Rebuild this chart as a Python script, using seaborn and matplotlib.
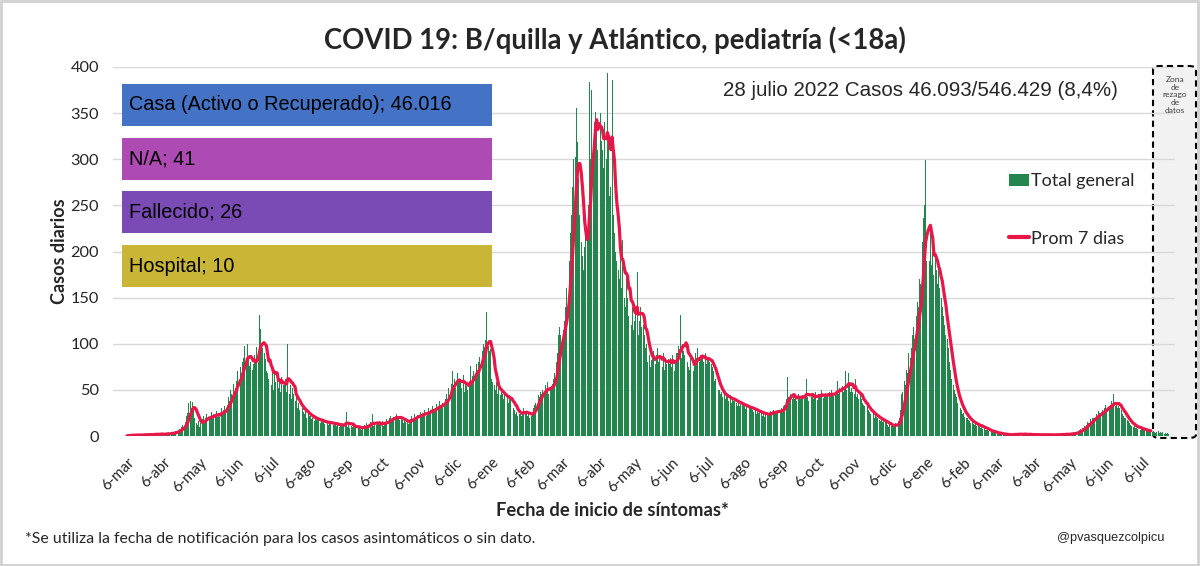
import pandas as pd
import seaborn as sns
import matplotlib.pyplot as plt
import matplotlib.dates as mdates
from matplotlib.patches import Rectangle, FancyBboxPatch, Patch
from matplotlib.lines import Line2D

# casos diarios pediatria, desde el 6-mar-2020 (una semana por linea)
casos_ola1 = [
    0, 1, 0, 1, 2, 1, 1,
    1, 1, 0, 2, 1, 1, 2,
    1, 2, 1, 1, 2, 1, 2,
    2, 1, 2, 3, 2, 1, 2,
    2, 3, 2, 1, 3, 2, 3,
    3, 2, 4, 3, 3, 4, 5,
    5, 6, 8, 7, 10, 12, 11,
    15, 22, 25, 36, 38, 30, 37,
    28, 20, 14, 12, 16, 10, 14,
    18, 22, 15, 20, 24, 17, 21,
    20, 26, 19, 24, 22, 27, 21,
    24, 21, 30, 26, 28, 33, 25,
    34, 42, 38, 50, 45, 56, 48,
    52, 60, 70, 58, 75, 68, 80,
    85, 98, 80, 100, 84, 76, 80,
    72, 78, 88, 82, 96, 80, 131,
    116, 100, 95, 90, 84, 70, 68,
    62, 108, 55, 70, 50, 72, 58,
    66, 52, 60, 48, 64, 55, 58,
    62, 48, 100, 45, 55, 40, 52,
    45, 38, 42, 30, 36, 28, 33,
    30, 26, 24, 28, 20, 25, 22,
    22, 18, 20, 16, 21, 17, 19,
    18, 14, 17, 15, 16, 13, 17,
    15, 12, 14, 16, 13, 12, 14,
    13, 11, 14, 10, 12, 13, 11,
    11, 14, 26, 10, 12, 9, 11,
    10, 12, 9, 11, 8, 10, 9,
    8, 7, 10, 12, 9, 14, 11,
    12, 15, 10, 24, 11, 13, 12,
    14, 12, 15, 13, 16, 11, 14,
    15, 18, 14, 20, 22, 17, 19,
    21, 18, 24, 19, 22, 17, 20,
    17, 14, 18, 15, 16, 13, 17,
    18, 22, 17, 24, 20, 19, 23,
    22, 26, 21, 25, 24, 28, 22,
    25, 30, 24, 28, 33, 26, 29,
    30, 35, 28, 38, 34, 32, 36,
    34, 40, 45, 38, 52, 48, 56,
    70, 55, 62, 52, 68, 58, 60,
    60, 52, 66, 48, 58, 54, 50,
    55, 76, 58, 65, 70, 62, 78,
    72, 80, 86, 78, 92, 100, 96,
    104, 134, 98, 92, 94, 62, 58,
    55, 50, 58, 46, 52, 44, 48,
    45, 40, 48, 38, 42, 36, 44,
    40, 36, 30, 28, 24, 26, 22,
    24, 28, 22, 26, 30, 24, 27,
    22, 24, 20, 22, 26, 30, 34,
    36, 40, 44, 42, 48, 46, 50,
]
casos_ola2 = [
    48, 55, 50, 58, 46, 52, 54,
    56, 62, 68, 80, 90, 110, 118,
    110, 105, 115, 125, 140, 160, 180,
    190, 220, 240, 270, 300, 302, 356,
    319, 280, 240, 210, 195, 180, 205,
    240, 220, 250, 384, 300, 375, 320,
    340, 351, 330, 310, 345, 350, 320,
    310, 290, 340, 300, 393, 320, 260,
    270, 386, 240, 220, 200, 190, 180,
    170, 227, 160, 212, 150, 140, 175,
    150, 130, 165, 120, 140, 115, 125,
    135, 178, 110, 125, 140, 118, 120,
    110, 95, 100, 80, 88, 75, 82,
    85, 92, 78, 88, 95, 80, 86,
    80, 75, 90, 72, 85, 78, 84,
    78, 85, 75, 88, 70, 82, 90,
    90, 98, 131, 85, 100, 92, 88,
    113, 80, 75, 72, 85, 78, 70,
    82, 90, 85, 95, 80, 88, 84,
    85, 80, 90, 78, 84, 86, 80,
    78, 75, 70, 60, 62, 55, 50,
    50, 45, 48, 42, 46, 40, 44,
    42, 38, 44, 36, 40, 38, 41,
    36, 33, 38, 32, 36, 34, 35,
    32, 29, 34, 28, 31, 30, 33,
    28, 26, 30, 24, 27, 25, 28,
    25, 22, 26, 21, 24, 23, 25,
    24, 27, 25, 28, 26, 24, 27,
    27, 29, 26, 30, 28, 32, 34,
    40, 64, 42, 38, 45, 40, 44,
    40, 44, 38, 46, 42, 40, 43,
    44, 40, 45, 62, 42, 38, 41,
    42, 46, 40, 44, 48, 39, 45,
    45, 42, 50, 41, 46, 43, 44,
    44, 48, 42, 50, 46, 43, 47,
    48, 60, 46, 52, 50, 54, 48,
    52, 70, 50, 68, 55, 48, 52,
    48, 45, 62, 42, 46, 40, 44,
    40, 36, 34, 32, 30, 33, 28,
    26, 24, 22, 25, 20, 23, 21,
]
casos_ola3 = [
    19, 17, 16, 18, 15, 17, 16,
    14, 12, 10, 13, 11, 12, 10,
    11, 14, 12, 16, 20, 28, 45,
    48, 60, 55, 72, 68, 90, 85,
    95, 110, 118, 105, 130, 145, 140,
    170, 165, 210, 236, 250, 299, 190,
    205, 190, 229, 185, 200, 175, 195,
    180, 165, 185, 160, 150, 140, 130,
    120, 110, 105, 95, 80, 72, 62,
    55, 50, 45, 42, 36, 33, 30,
    28, 24, 25, 21, 19, 20, 17,
    16, 14, 15, 13, 12, 14, 11,
    11, 10, 9, 12, 8, 9, 7,
    7, 6, 5, 6, 4, 5, 4,
    4, 3, 3, 2, 3, 2, 3,
    2, 1, 2, 1, 1, 2, 1,
    2, 1, 2, 3, 1, 2, 2,
    2, 2, 1, 3, 2, 2, 1,
    1, 2, 2, 1, 2, 1, 2,
    1, 1, 2, 1, 1, 2, 1,
    1, 2, 1, 1, 2, 1, 1,
    1, 1, 2, 2, 1, 1, 2,
    2, 1, 2, 2, 3, 1, 2,
    2, 3, 2, 4, 3, 3, 4,
    5, 6, 8, 7, 9, 11, 10,
    12, 15, 14, 18, 16, 20, 19,
    20, 24, 22, 27, 25, 23, 28,
    26, 30, 34, 28, 36, 32, 30,
    38, 34, 45, 32, 35, 30, 33,
    30, 28, 24, 22, 20, 19, 17,
    16, 14, 12, 11, 10, 12, 9,
    9, 8, 10, 7, 8, 6, 7,
    6, 5, 7, 4, 5, 6, 4,
    5, 4, 3, 4, 5, 3, 4,
    3, 4, 2, 3, 2, 3, 2,
]

inicio = '2020-03-06'
inicio_rezago = '2022-07-14'
meses = ['ene', 'feb', 'mar', 'abr', 'may', 'jun', 'jul', 'ago', 'sep', 'oct', 'nov', 'dic']
cajas_texto = ['Casa (Activo o Recuperado); 46.016', 'N/A; 41', 'Fallecido; 26', 'Hospital; 10']
cajas_color = ['#4472c4', '#ae4ab4', '#7b4bb5', '#c9b536']

verde = '#23874d'
rojo = '#e8174a'

casos = casos_ola1 + casos_ola2 + casos_ola3
df = pd.DataFrame({'fecha': pd.date_range(inicio, periods=len(casos), freq='D'), 'casos': casos})
df['prom7'] = df['casos'].rolling(7, min_periods=1).mean()
df['x'] = mdates.date2num(df['fecha'])

sns.set_theme(style='white')
plt.rcParams['font.family'] = ['Lato', 'DejaVu Sans']

W, H = 1200, 566
fig = plt.figure(figsize=(W / 100, H / 100), dpi=100)
ax = fig.add_axes([113 / W, 1 - 436 / H, 1062 / W, 369 / H])
ax.patch.set_alpha(0)

# zona de rezago (detras de las barras)
zona = FancyBboxPatch((1153 / W, 1 - 438 / H), 43 / W, 372 / H,
                      boxstyle='round,pad=0,rounding_size=0.006', transform=fig.transFigure,
                      facecolor='#f2f2f2', edgecolor='black', linestyle=(0, (3, 2)), lw=1.5, zorder=-1)
fig.patches.append(zona)
fig.text(1175 / W, 1 - 95 / H, 'Zona\nde\nrezago\nde\ndatos', ha='center', va='center',
         fontsize=6, linespacing=1.15, color='#404040')

sns.barplot(data=df, x='x', y='casos', native_scale=True, color=verde, saturation=1,
            width=0.8, errorbar=None, linewidth=0, ax=ax, zorder=2)
df_linea = df[df['fecha'] < inicio_rezago]
sns.lineplot(data=df_linea, x='x', y='prom7', color=rojo, lw=2.3, ax=ax, zorder=3)

x0 = mdates.date2num(pd.Timestamp(inicio))
ax.set_xlim(x0 - 11.7, x0 + 879.2)
ax.set_ylim(0, 400)
ax.set_yticks(range(0, 401, 50))
ax.grid(axis='y', color='#d9d9d9', lw=1)
ax.set_axisbelow(True)

ticks = pd.date_range('2020-03-01', '2022-07-01', freq='MS') + pd.Timedelta(days=5)
ax.set_xticks(mdates.date2num(ticks))
ax.set_xticklabels([f'6-{meses[d.month - 1]}' for d in ticks], rotation=45, ha='right',
                   rotation_mode='anchor', fontsize=10.8, color='#262626')
ax.tick_params(axis='y', labelsize=11.8, labelcolor='#262626', length=0, pad=10)
ax.tick_params(axis='x', length=0, pad=14)
sns.despine(ax=ax, left=True, bottom=True)
ax.set_xlabel('')
ax.set_ylabel('Casos diarios', fontsize=13, fontweight='bold')
ax.yaxis.set_label_coords(-0.042, 0.5)

fig.text(615 / W, 1 - 40 / H, 'COVID 19: B/quilla y Atlántico, pediatría (<18a)',
         ha='center', va='center', fontsize=19.8, fontweight='bold')
fig.text(612 / W, 1 - 510 / H, 'Fecha de inicio de síntomas*', ha='center', va='center',
         fontsize=13.2, fontweight='bold')
fig.text(25 / W, 1 - 539 / H, '*Se utiliza la fecha de notificación para los casos asintomáticos o sin dato.',
         ha='left', va='center', fontsize=11.4)
fig.text(1164 / W, 1 - 538 / H, '@pvasquezcolpicu', ha='right', va='center', fontsize=9.2,
         family='Liberation Sans')
fig.text(920 / W, 1 - 90 / H, '28 julio 2022 Casos 46.093/546.429 (8,4%)', ha='center', va='center',
         fontsize=14.8, family='Liberation Sans')

for i, (texto, color) in enumerate(zip(cajas_texto, cajas_color)):
    y_top = 84 + i * 53.7
    fig.patches.append(Rectangle((122 / W, 1 - (y_top + 42) / H), 370 / W, 42 / H,
                                 transform=fig.transFigure, facecolor=color, edgecolor='none', zorder=4))
    fig.text(129 / W, 1 - (y_top + 21) / H, texto, ha='left', va='center', fontsize=14.3,
             family='Liberation Sans', color='black', zorder=5)

handles = [Patch(facecolor=verde, edgecolor='none'), Line2D([], [], color=rojo, lw=3)]
fig.legend(handles, ['Total general', 'Prom 7 dias'], loc='upper left',
           bbox_to_anchor=(993 / W, 1 - 157 / H), frameon=False, fontsize=13,
           labelspacing=2.3, handlelength=1.1, handletextpad=0.1, handleheight=0.7)

fig.patches.append(Rectangle((0.001, 0.002), 0.997, 0.996, transform=fig.transFigure,
                             fill=False, edgecolor='#d0d0d0', lw=2))

fig.savefig('out.png', dpi=100)
